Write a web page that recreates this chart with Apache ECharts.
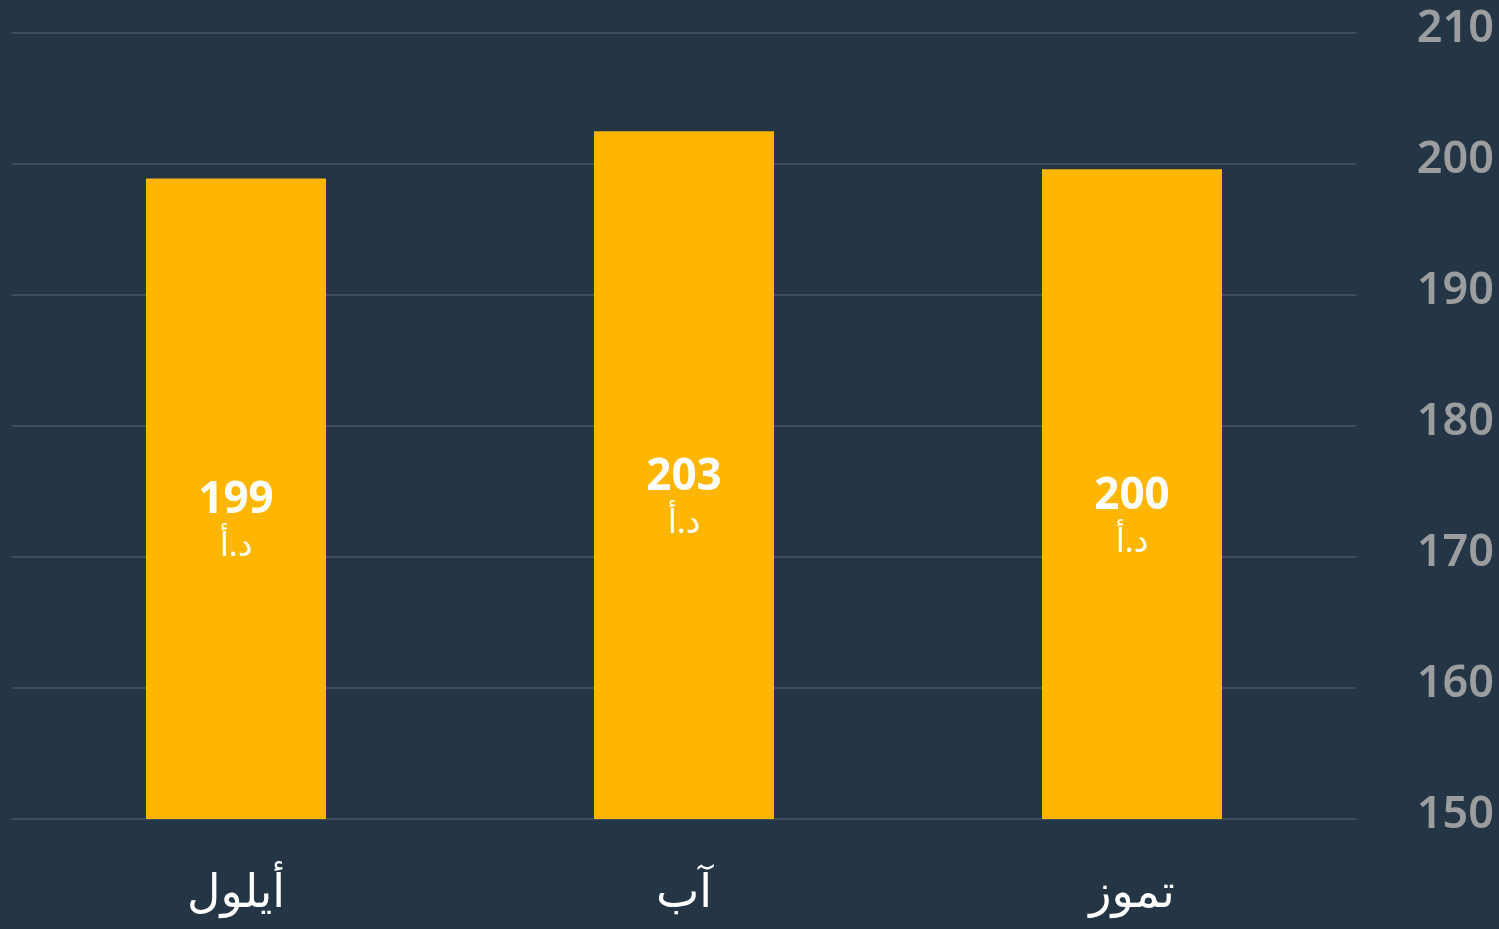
<!DOCTYPE html>
<html>
<head>
<meta charset="utf-8">
<script src="https://cdn.jsdelivr.net/npm/echarts@6/dist/echarts.min.js"></script>
<style>
  html, body { margin: 0; padding: 0; background: #243646; }
  #main { width: 1499px; height: 929px; }
</style>
</head>
<body>
<div id="main"></div>
<script>
// months, shown right to left: تموز, آب, أيلول
var months = ['أيلول', 'آب', 'تموز'];
var prices = [198.9, 202.5, 199.6];
var currency = 'د.أ';
var yTicks = [150, 210, 10]; // min, max, interval

var chart = echarts.init(document.getElementById('main'));

var option = {
  backgroundColor: '#243646',
  animation: false,
  grid: { left: 12, right: 143, top: 33, bottom: 110 },
  xAxis: {
    type: 'category',
    data: months,
    axisLine: { show: false },
    axisTick: { show: false },
    axisLabel: {
      color: '#ffffff',
      fontSize: 46,
      fontFamily: 'Noto Sans, DejaVu Sans, sans-serif',
      margin: 52
    }
  },
  yAxis: {
    type: 'value',
    position: 'right',
    min: yTicks[0],
    max: yTicks[1],
    interval: yTicks[2],
    axisLine: { show: false },
    axisTick: { show: false },
    splitLine: { lineStyle: { color: '#3d4e5e', width: 2 } },
    axisLabel: {
      align: 'right',
      margin: 138,
      formatter: function (v) { return '{t|' + v + '}'; },
      rich: {
        t: {
          color: '#9b9d9f',
          fontSize: 45,
          fontWeight: 600,
          fontFamily: 'Noto Sans, DejaVu Sans, sans-serif',
          padding: [0, 0, 7, 0]
        }
      }
    }
  },
  series: [{
    type: 'bar',
    data: prices,
    barWidth: 180,
    itemStyle: { color: '#ffb600' },
    label: {
      show: true,
      position: 'inside',
      offset: [0, 24],
      formatter: function (p) {
        return '{v|' + Math.round(p.value) + '}\n{c|' + currency + '}';
      },
      rich: {
        v: { color: '#ffffff', fontSize: 44, fontWeight: 'bold', lineHeight: 48,
             fontFamily: 'Noto Sans, DejaVu Sans, sans-serif' },
        c: { color: '#ffffff', fontSize: 33, lineHeight: 44,
             fontFamily: 'Noto Sans, DejaVu Sans, sans-serif' }
      }
    }
  }]
};

chart.setOption(option);
</script>
</body>
</html>
